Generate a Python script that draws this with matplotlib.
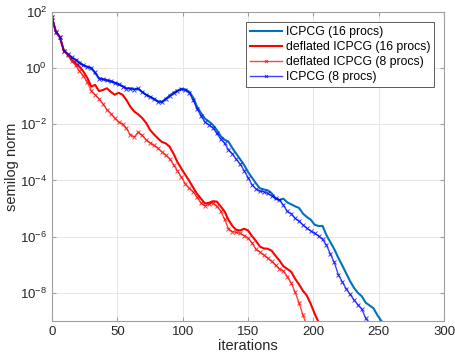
import numpy as np
import matplotlib
matplotlib.use("Agg")
import matplotlib.pyplot as plt

plt.rcParams["font.family"] = ["Liberation Sans", "DejaVu Sans"]
plt.rcParams["mathtext.fontset"] = "custom"
plt.rcParams["mathtext.rm"] = "Liberation Sans"

# log10 of the residual norm, every 3 iterations
it_icpcg16 = np.arange(0, 253, 3)
log_icpcg16 = [1.80, 1.28, 1.10, 0.65, 0.50, 0.38, 0.30, 0.20, 0.10, 0.05,
               0.00, -0.18, -0.36, -0.40, -0.44, -0.48, -0.52, -0.58, -0.64, -0.72,
               -0.72, -0.74, -0.75, -0.85, -0.95, -1.02, -1.10, -1.18, -1.20, -1.10,
               -0.98, -0.88, -0.80, -0.74, -0.76, -0.84, -1.05, -1.38, -1.60, -1.80,
               -1.90, -2.02, -2.20, -2.42, -2.55, -2.62, -2.85, -3.05, -3.25, -3.45,
               -3.70, -3.90, -4.10, -4.28, -4.32, -4.35, -4.45, -4.65, -4.70, -4.65,
               -4.78, -4.85, -4.92, -4.98, -5.18, -5.30, -5.40, -5.58, -5.62, -5.62,
               -5.95, -6.20, -6.45, -6.75, -7.02, -7.30, -7.58, -7.82, -8.00, -8.12,
               -8.35, -8.45, -8.55, -8.80, -9.00]

it_defl16 = np.arange(0, 205, 3)
log_defl16 = [1.80, 1.28, 1.10, 0.62, 0.48, 0.30, 0.18, 0.05, -0.12, -0.35,
              -0.66, -0.60, -0.82, -0.78, -0.72, -0.85, -0.95, -0.88, -0.95, -1.14,
              -1.38, -1.55, -1.65, -1.78, -1.95, -2.20, -2.36, -2.50, -2.63, -2.68,
              -2.80, -3.05, -3.35, -3.58, -3.80, -4.02, -4.25, -4.48, -4.65, -4.82,
              -4.80, -4.74, -4.75, -4.92, -5.10, -5.40, -5.62, -5.76, -5.78, -5.72,
              -5.78, -5.98, -6.15, -6.35, -6.42, -6.43, -6.50, -6.68, -6.85, -7.05,
              -7.15, -7.25, -7.50, -7.70, -7.93, -8.10, -8.40, -8.75, -9.05]

it_defl8 = np.arange(0, 196, 3)
log_defl8 = [1.80, 1.30, 1.12, 0.62, 0.48, 0.25, 0.10, -0.10, -0.28, -0.50,
             -0.80, -0.95, -1.10, -1.28, -1.48, -1.62, -1.78, -1.92, -2.00, -2.15,
             -2.38, -2.45, -2.28, -2.40, -2.55, -2.66, -2.75, -2.86, -2.98, -3.10,
             -3.22, -3.45, -3.65, -3.88, -4.12, -4.28, -4.40, -4.60, -4.80, -4.90,
             -4.85, -4.80, -4.92, -5.08, -5.38, -5.72, -5.82, -5.85, -5.88, -5.96,
             -6.05, -6.22, -6.45, -6.55, -6.65, -6.76, -6.88, -7.02, -7.14, -7.22,
             -7.42, -7.65, -7.98, -8.35, -8.80, -9.15]

it_icpcg8 = np.arange(0, 244, 3)
log_icpcg8 = [1.80, 1.30, 1.12, 0.62, 0.50, 0.38, 0.30, 0.18, 0.10, 0.04,
              0.00, -0.15, -0.38, -0.40, -0.43, -0.46, -0.52, -0.58, -0.66, -0.73,
              -0.74, -0.77, -0.72, -0.85, -0.95, -1.02, -1.10, -1.20, -1.22, -1.10,
              -1.00, -0.90, -0.82, -0.76, -0.79, -0.88, -1.14, -1.45, -1.70, -1.92,
              -2.02, -2.12, -2.32, -2.52, -2.68, -2.90, -3.05, -3.25, -3.42, -3.65,
              -3.90, -4.15, -4.30, -4.38, -4.40, -4.46, -4.55, -4.62, -4.68, -4.88,
              -5.10, -5.18, -5.35, -5.45, -5.58, -5.70, -5.80, -5.88, -5.98, -6.10,
              -6.30, -6.62, -6.92, -7.35, -7.60, -7.85, -8.05, -8.25, -8.42, -8.58,
              -8.90, -9.10]

fig = plt.figure(figsize=(4.56, 3.59), dpi=100)
ax = fig.add_axes([0.114, 0.106, 0.86, 0.861])

ax.semilogy(it_icpcg16, 10.0 ** np.array(log_icpcg16), color="#0072BD", lw=1.5,
            label="ICPCG (16 procs)")
ax.semilogy(it_defl16, 10.0 ** np.array(log_defl16), color="#FF0000", lw=1.5,
            label="deflated ICPCG (16 procs)")
ax.semilogy(it_defl8, 10.0 ** np.array(log_defl8), color="#FF0000", lw=1.0,
            marker="x", ms=3.5, mew=0.7, alpha=0.75, label="deflated ICPCG (8 procs)")
ax.semilogy(it_icpcg8, 10.0 ** np.array(log_icpcg8), color="#0000FF", lw=1.0,
            marker="x", ms=3.5, mew=0.7, alpha=0.75, label="ICPCG (8 procs)")

ax.set_xlim(0, 300)
ax.set_ylim(1e-9, 1e2)
ax.set_xticks(np.arange(0, 301, 50))
ax.set_yticks([1e2, 1e0, 1e-2, 1e-4, 1e-6, 1e-8])
ax.yaxis.set_minor_locator(matplotlib.ticker.NullLocator())
ax.grid(True, color="#e6e6e6", lw=0.7)
ax.set_axisbelow(True)
for s in ax.spines.values():
    s.set_color("#a0a0a0")
    s.set_linewidth(0.8)
ax.tick_params(direction="in", colors="#a0a0a0", labelcolor="#262626",
               labelsize=9.5, length=3, top=True, right=True)
ax.set_xlabel("iterations", fontsize=10.5, color="#262626", labelpad=1)
ax.set_ylabel("semilog norm", fontsize=10.5, color="#262626", labelpad=1)

leg = ax.legend(loc="upper right", fontsize=8.8, fancybox=False, framealpha=1,
                edgecolor="#404040", borderpad=0.35, handlelength=2.6,
                handletextpad=0.3, labelspacing=0.25, borderaxespad=0.8,
                numpoints=1, markerscale=0.6)
leg.get_frame().set_linewidth(0.6)

fig.savefig("out.png", dpi=100)
